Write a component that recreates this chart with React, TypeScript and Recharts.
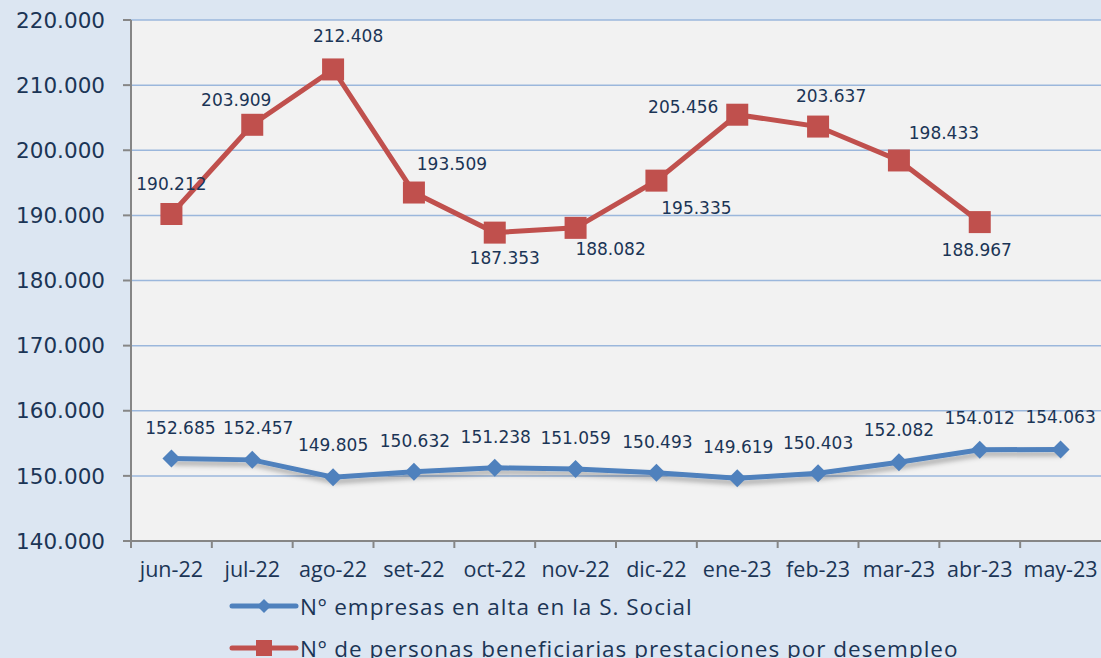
import React from 'react';
import { LineChart, Line, XAxis, YAxis, CartesianGrid } from 'recharts';

const categories = ['jun-22', 'jul-22', 'ago-22', 'set-22', 'oct-22', 'nov-22', 'dic-22', 'ene-23', 'feb-23', 'mar-23', 'abr-23', 'may-23'];
const empresas = [152685, 152457, 149805, 150632, 151238, 151059, 150493, 149619, 150403, 152082, 154012, 154063];
const beneficiarios: (number | null)[] = [190212, 203909, 212408, 193509, 187353, 188082, 195335, 205456, 203637, 198433, 188967, null];
const yTicks = [140000, 150000, 160000, 170000, 180000, 190000, 200000, 210000, 220000];

const seriesNames = ['Nº empresas en alta en la S. Social', 'Nº de personas beneficiarias prestaciones por desempleo'];

// label offsets (style only)
const blueOffsets: [number, number][] = [[9, -30], [6, -32], [0, -32], [1, -31], [1, -31], [0, -31], [1, -31], [1, -31], [0, -30], [0, -32], [0, -32], [0, -32]];
const redOffsets: [number, number][] = [[0, -30], [-16, -25], [15, -33], [38, -29], [10, 25], [35, 21], [40, 27], [-54, -8], [13, -31], [45, -27], [-3, 28], [0, 0]];

const data = categories.map((c, i) => ({ cat: c, emp: empresas[i], ben: beneficiarios[i] }));

const fmt = (n: number) => String(n).replace(/\B(?=(\d{3})+(?!\d))/g, '.');

const BLUE = '#4f81bd';
const RED = '#c0504d';
const TEXT = '#1b3556';
const FONT = '"DejaVu Sans", Verdana, sans-serif';
const SANS = '"Open Sans", sans-serif';

const Diamond = (props: any) => {
  const { cx, cy } = props;
  if (cx == null || cy == null) return null;
  const r = 9;
  return <path d={`M${cx},${cy - r}L${cx + r},${cy}L${cx},${cy + r}L${cx - r},${cy}Z`} fill={BLUE} />;
};
const Square = (props: any) => {
  const { cx, cy } = props;
  if (cx == null || cy == null) return null;
  const s = 11;
  return <rect x={cx - s} y={cy - s} width={2 * s} height={2 * s} fill={RED} />;
};

const makeLabel = (offsets: [number, number][]) => (props: any) => {
  const { x, y, value, index } = props;
  if (value == null) return null;
  const [dx, dy] = offsets[index] || [0, -30];
  return (
    <text x={x + dx} y={y + dy} textAnchor="middle" dominantBaseline="central" fill={TEXT} fontSize={17} fontFamily={FONT}>
      {fmt(value)}
    </text>
  );
};

const XTick = (props: any) => {
  const { x, y, payload } = props;
  const half = 970 / 12 / 2;
  return (
    <g>
      <line x1={x - half} x2={x - half} y1={y - 8} y2={y - 1} stroke="#868686" strokeWidth={2} />
      <text x={x} y={y + 19} textAnchor="middle" dominantBaseline="central" fill={TEXT} fontSize={21.5} fontFamily={SANS}>
        {payload.value}
      </text>
    </g>
  );
};

const LegendRow = ({ color, square, label, top }: { color: string; square: boolean; label: string; top: number }) => (
  <div style={{ position: 'absolute', left: 229, top, display: 'flex', alignItems: 'center', height: 30 }}>
    <svg width={70} height={30}>
      <line x1={3} x2={67} y1={15} y2={15} stroke={color} strokeWidth={5} strokeLinecap="round" />
      {square ? (
        <rect x={35 - 8} y={7} width={16} height={16} fill={color} />
      ) : (
        <path d="M35,8L42,15L35,22L28,15Z" fill={color} />
      )}
    </svg>
    <span style={{ fontFamily: SANS, fontSize: 22.5, letterSpacing: 1, color: TEXT, whiteSpace: 'nowrap', marginLeft: 1 }}>{label}</span>
  </div>
);

export default function App() {
  return (
    <div style={{ position: 'absolute', left: 0, top: 0, width: 1101, height: 658, background: '#dce6f2', overflow: 'hidden' }}>
      <LineChart width={1101} height={658} data={data} margin={{ top: 20, right: 0, bottom: 77, left: 0 }}>
        <defs>
          <filter id="sh" x="-10%" y="-50%" width="120%" height="200%">
            <feDropShadow dx="2" dy="4" stdDeviation="2.5" floodColor="#000" floodOpacity="0.3" />
          </filter>
        </defs>
        <CartesianGrid vertical={false} stroke="#9bb7dc" strokeWidth={1.5} fill="#f2f2f2" />
        <XAxis dataKey="cat" scale="band" padding={{ left: 0, right: 0 }} axisLine={{ stroke: '#868686', strokeWidth: 2 }} tickLine={false} tick={<XTick />} height={40} interval={0} />
        <YAxis
          width={131}
          domain={[140000, 220000]}
          ticks={yTicks}
          tickFormatter={fmt}
          axisLine={{ stroke: '#868686', strokeWidth: 2 }}
          tickLine={{ stroke: '#868686', strokeWidth: 2 }}
          tickSize={8}
          tickMargin={18}
          tick={{ fill: TEXT, fontSize: 21.5, fontFamily: FONT }}
          interval={0}
        />
        <Line
          dataKey="emp"
          stroke={BLUE}
          strokeWidth={5}
          dot={<Diamond />}
          activeDot={false}
          isAnimationActive={false}
          label={makeLabel(blueOffsets)}
          style={{ filter: 'url(#sh)' }}
        />
        <Line
          dataKey="ben"
          stroke={RED}
          strokeWidth={5}
          dot={<Square />}
          activeDot={false}
          isAnimationActive={false}
          label={makeLabel(redOffsets)}
          connectNulls={false}
        />
      </LineChart>
      <LegendRow color={BLUE} square={false} label={seriesNames[0]} top={591} />
      <LegendRow color={RED} square={true} label={seriesNames[1]} top={633} />
    </div>
  );
}
